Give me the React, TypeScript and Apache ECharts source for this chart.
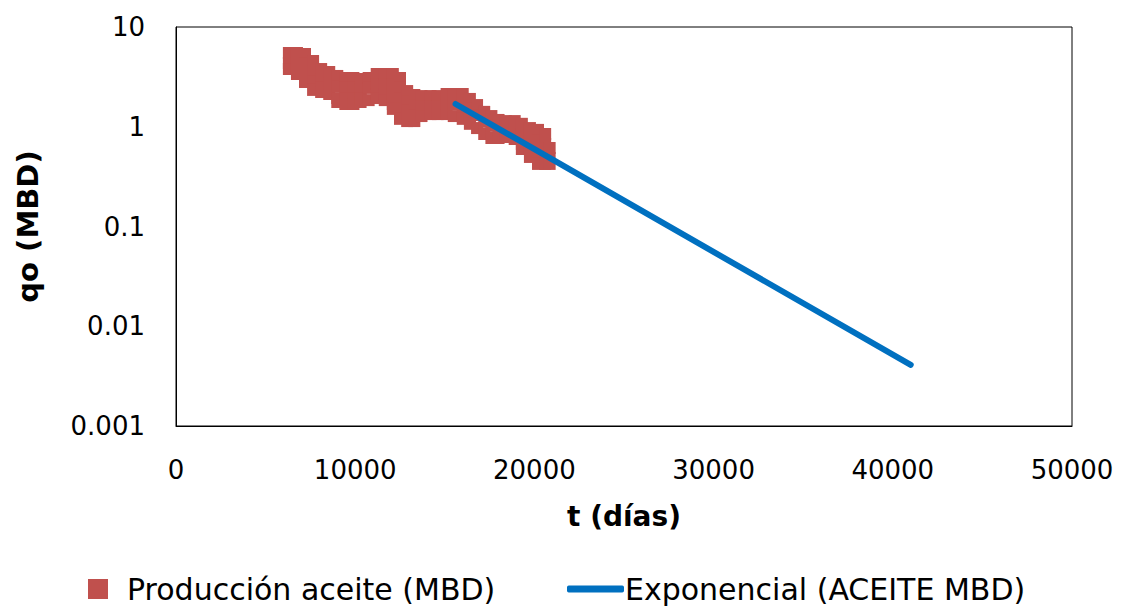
import React, { useEffect, useRef } from "react";
import * as echarts from "echarts";

// Production data (t in days, qo in MBD)
const prodT: number[] = [
  6300, 6300, 6300,
  6750, 6750, 6750,
  7200, 7200, 7200, 7200,
  7650, 7650, 7650, 7650,
  8100, 8100, 8100, 8100,
  8550, 8550, 8550,
  9000, 9000, 9000, 9000,
  9450, 9450, 9450, 9450,
  9900, 9900, 9900, 9900,
  10300, 10300, 10300, 10300,
  10750, 10750, 10750,
  11200, 11200, 11200, 11200,
  11650, 11650, 11650, 11650,
  12100, 12100, 12100, 12100, 12100,
  12500, 12500, 12500, 12500, 12500,
  12900, 12900, 12900, 12900,
  13300, 13300, 13300, 13300,
  13700, 13700, 13700,
  14200, 14200, 14200,
  14600, 14600, 14600,
  15100, 15100, 15100,
  15500, 15500, 15500,
  16000, 16000, 16000, 16000,
  16400, 16400, 16400, 16400,
  16800, 16800, 16800,
  17200, 17200, 17200,
  17600, 17600, 17600,
  18000, 18000, 18000,
  18400, 18400, 18400,
  18900, 18900, 18900,
  19300, 19300, 19300, 19300,
  19750, 19750, 19750, 19750,
  20200, 20200, 20200, 20200, 20200,
  20600, 20600, 20600, 20600,
  20850, 20850, 20850,
];
const prodQ: number[] = [
  5.49, 4.36, 3.79,
  5.49, 4.36, 3.38,
  5.36, 4.26, 3.38, 2.81,
  4.56, 3.62, 2.87, 2.34,
  3.79, 3.01, 2.45, 2.23,
  3.54, 2.81, 2.13,
  3.23, 2.56, 1.94, 1.77,
  3.08, 2.45, 1.94, 1.69,
  3.08, 2.45, 1.94, 1.69,
  3.01, 2.39, 1.94, 1.77,
  3.08, 2.45, 1.85,
  3.38, 2.68, 2.13, 1.94,
  3.38, 2.68, 2.13, 1.85,
  3.38, 2.68, 2.13, 1.69, 1.51,
  3.08, 2.45, 1.94, 1.54, 1.2,
  2.28, 1.81, 1.44, 1.14,
  2.08, 1.65, 1.31, 1.14,
  2.03, 1.61, 1.28,
  2.03, 1.61, 1.34,
  2.03, 1.61, 1.34,
  2.13, 1.69, 1.34,
  2.13, 1.69, 1.28,
  2.13, 1.69, 1.34, 1.2,
  1.9, 1.51, 1.2, 1.07,
  1.65, 1.31, 0.97,
  1.41, 1.12, 0.846,
  1.28, 1.02, 0.771,
  1.17, 0.93, 0.771,
  1.14, 0.906, 0.789,
  1.14, 0.906, 0.754,
  1.07, 0.846, 0.672, 0.598,
  0.97, 0.771, 0.612, 0.498,
  0.93, 0.736, 0.585, 0.464, 0.424,
  0.846, 0.672, 0.533, 0.424,
  0.612, 0.486, 0.424,
];

// Exponential decline fit (end points)
const fitT: number[] = [15600, 41000];
const fitQ: number[] = [1.69, 0.0041];

const yTicks: string[] = ["0.001", "0.01", "0.1", "1", "10"];
const xTicks: number[] = [0, 10000, 20000, 30000, 40000, 50000];

const seriesNames = ["Producción aceite (MBD)", "Exponencial (ACEITE MBD)"];

const FONT = "DejaVu Sans";

export default function App() {
  const ref = useRef<HTMLDivElement>(null);
  useEffect(() => {
    document.body.style.margin = "0";
    if (!ref.current) return;
    const chart = echarts.init(ref.current, null, { renderer: "svg" });
    const prodData = prodT.map((t, i) => [t, prodQ[i]]);
    const fitData = fitT.map((t, i) => [t, fitQ[i]]);
    const legendText = { fontSize: 30, lineHeight: 30, color: "#000", fontFamily: FONT };
    chart.setOption({
      animation: false,
      backgroundColor: "#fff",
      textStyle: { fontFamily: FONT },
      grid: {
        left: 176,
        top: 27,
        right: 54,
        bottom: 183,
        show: true,
        borderColor: "#000",
        borderWidth: 1,
      },
      legend: [
        {
          left: 88,
          top: 574,
          padding: 0,
          itemWidth: 20,
          itemHeight: 20,
          textStyle: { ...legendText, padding: [0, 0, 0, 14] },
          data: [{ name: seriesNames[0], icon: "rect" }],
        },
        {
          left: 567,
          top: 574,
          padding: 0,
          itemWidth: 57,
          itemHeight: 7,
          textStyle: { ...legendText, padding: [0, 0, 0, -4] },
          data: [{ name: seriesNames[1], icon: "roundRect" }],
        },
      ],
      xAxis: {
        type: "value",
        min: xTicks[0],
        max: xTicks[xTicks.length - 1],
        interval: 10000,
        name: "t (días)",
        nameLocation: "middle",
        nameGap: 76,
        nameTextStyle: { fontSize: 28, fontWeight: "bold", color: "#000", fontFamily: FONT },
        axisLine: { show: true, onZero: false, lineStyle: { color: "#000", width: 1 } },
        axisTick: { show: false },
        splitLine: { show: false },
        axisLabel: {
          fontSize: 26,
          color: "#000",
          margin: 31,
          fontFamily: FONT,
          formatter: (v: number) => String(v),
        },
      },
      yAxis: {
        type: "log",
        logBase: 10,
        min: Number(yTicks[0]),
        max: Number(yTicks[yTicks.length - 1]),
        name: "qo (MBD)",
        nameLocation: "middle",
        nameGap: 134,
        nameTextStyle: { fontSize: 29, fontWeight: "bold", color: "#000", fontFamily: FONT },
        axisLine: { show: true, lineStyle: { color: "#000", width: 1 } },
        axisTick: { show: false },
        splitLine: { show: false },
        axisLabel: {
          fontSize: 26,
          color: "#000",
          margin: 31,
          fontFamily: FONT,
          formatter: (v: number) => {
            const idx = yTicks.findIndex((s) => Math.abs(Math.log10(Number(s)) - Math.log10(v)) < 1e-6);
            return idx >= 0 ? yTicks[idx] : String(v);
          },
        },
      },
      series: [
        {
          name: seriesNames[0],
          type: "scatter",
          symbol: "rect",
          symbolSize: 12,
          itemStyle: { color: "#C0504D", opacity: 1 },
          data: prodData,
          z: 2,
        },
        {
          name: seriesNames[1],
          type: "line",
          symbol: "none",
          lineStyle: { color: "#0070C0", width: 6, cap: "round" },
          itemStyle: { color: "#0070C0" },
          data: fitData,
          z: 3,
        },
      ],
    });
    return () => chart.dispose();
  }, []);
  return <div ref={ref} style={{ width: 1126, height: 609 }} />;
}
